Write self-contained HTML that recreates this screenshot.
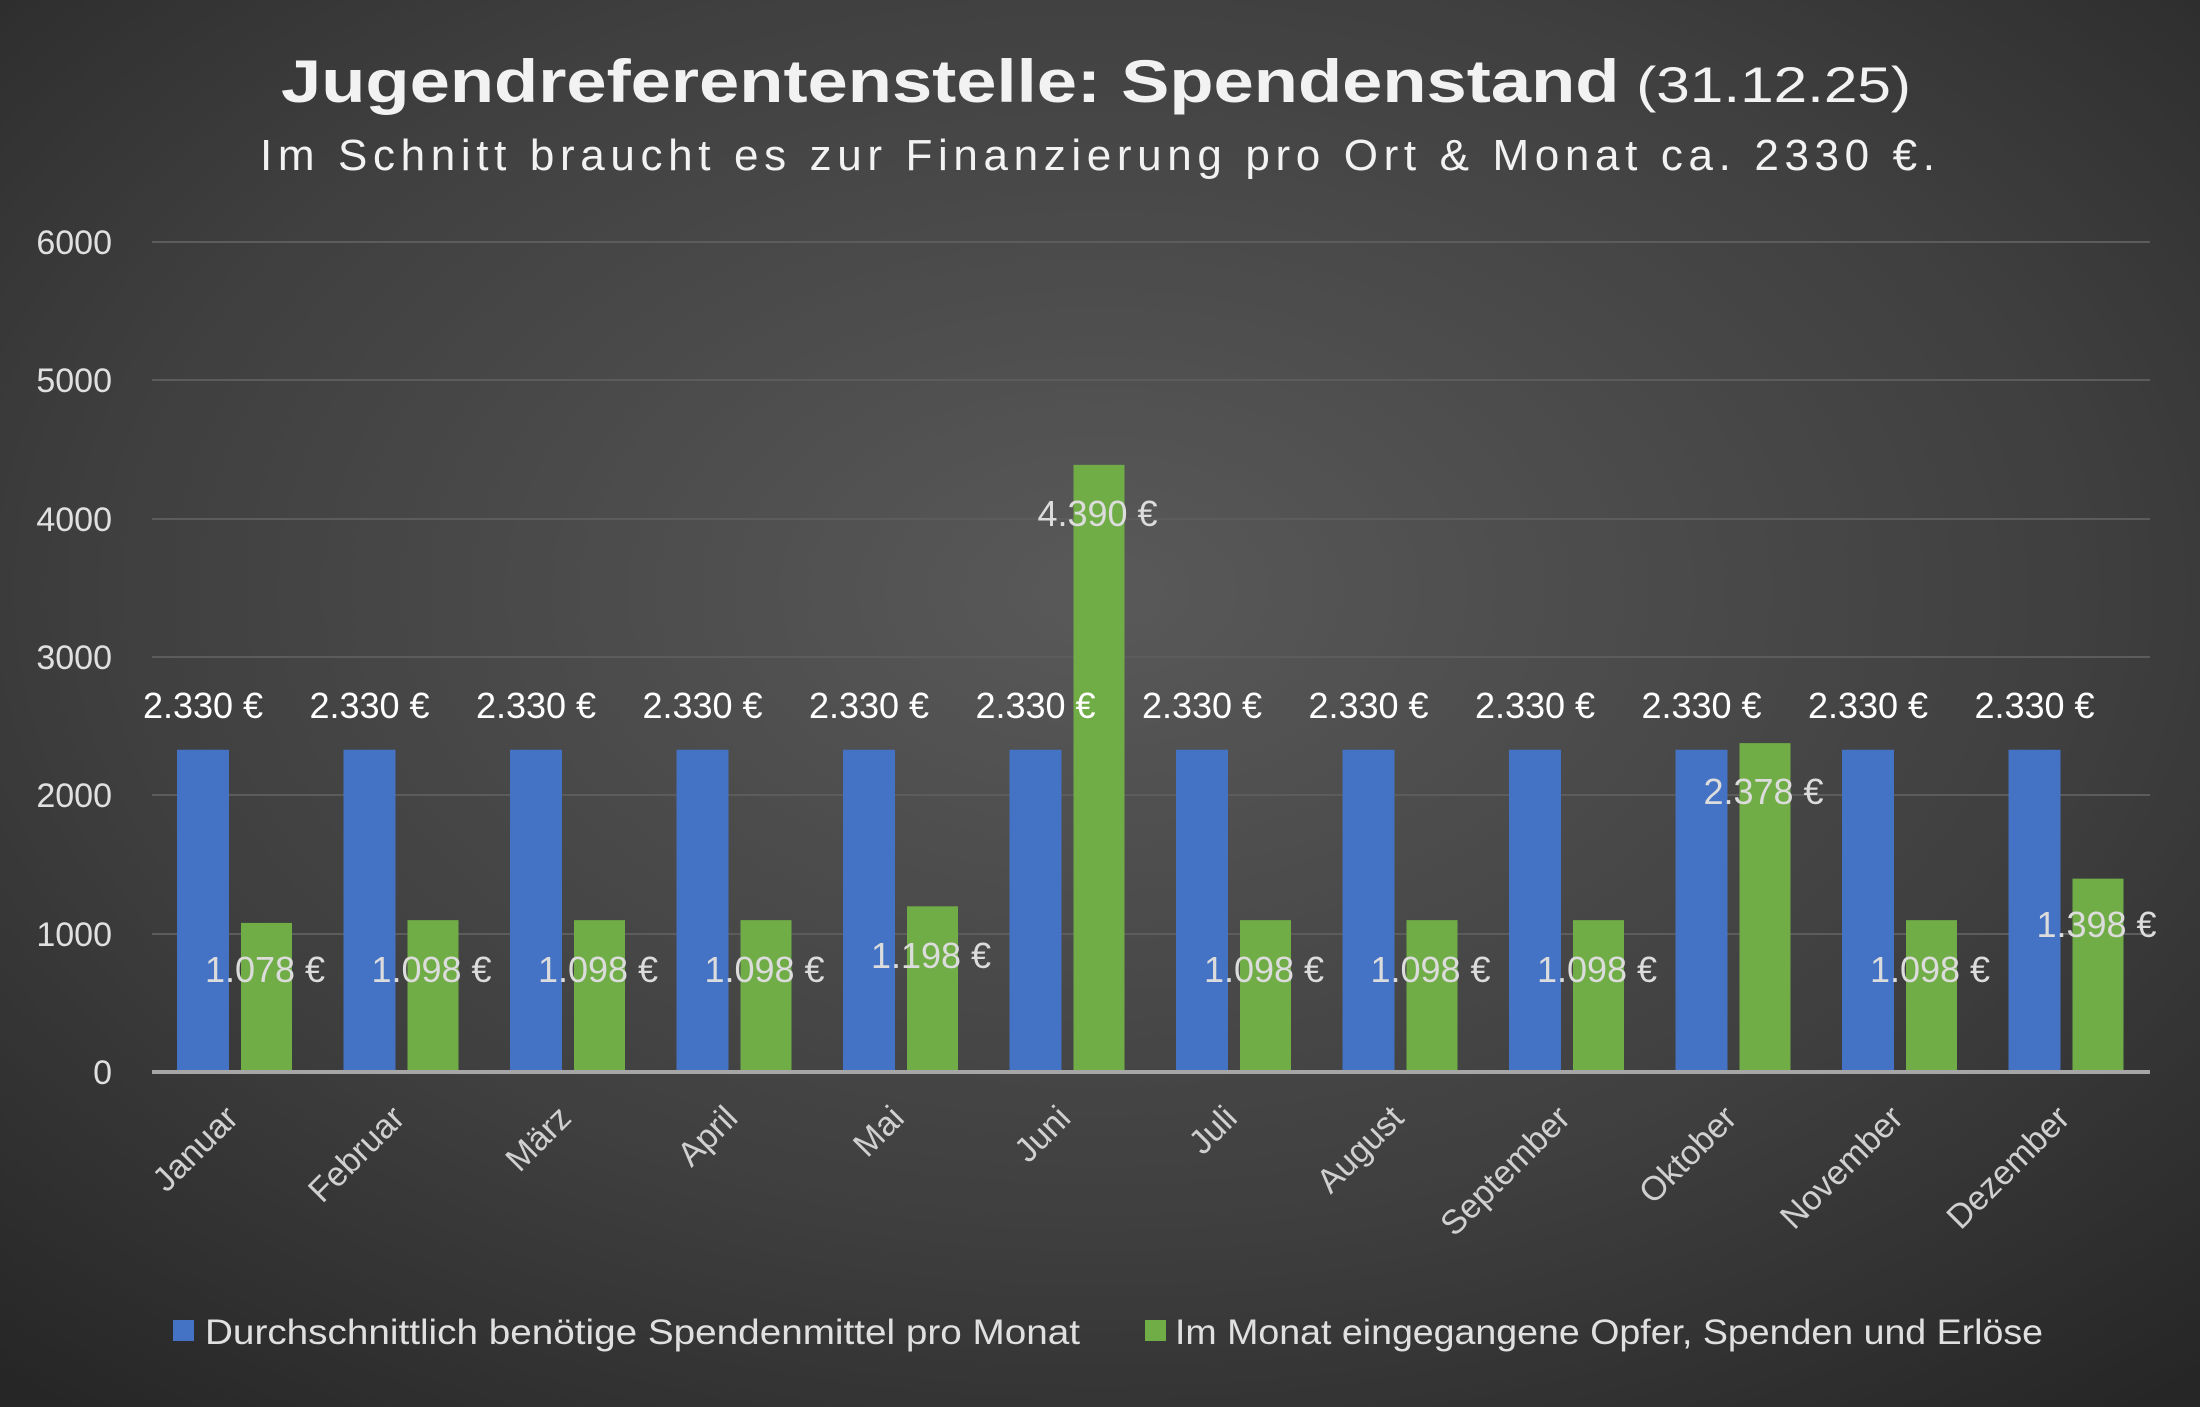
<!DOCTYPE html>
<html><head><meta charset="utf-8"><style>
html,body{margin:0;padding:0;background:#333;}
svg{display:block;font-family:"Liberation Sans",sans-serif;}
</style></head><body>
<svg width="2200" height="1407" viewBox="0 0 2200 1407" xmlns="http://www.w3.org/2000/svg">
<defs>
<radialGradient id="bg" cx="50%" cy="42%" r="75%">
<stop offset="0" stop-color="#595959"/>
<stop offset="0.6" stop-color="#3f3f3f"/>
<stop offset="1" stop-color="#262626"/>
</radialGradient>
</defs>
<rect width="2200" height="1407" fill="url(#bg)"/>
<text x="281" y="102" font-size="60" fill="#f2f2f2" textLength="1630" lengthAdjust="spacingAndGlyphs"><tspan font-weight="bold">Jugendreferentenstelle: Spendenstand</tspan><tspan font-size="50"> (31.12.25)</tspan></text>
<text x="260" y="170" font-size="44" fill="#f2f2f2" textLength="1675" lengthAdjust="spacing">Im Schnitt braucht es zur Finanzierung pro Ort &amp; Monat ca. 2330 €.</text>
<g stroke="#5c5c5c" stroke-width="2">
<line x1="152" x2="2150" y1="934" y2="934"/>
<line x1="152" x2="2150" y1="795" y2="795"/>
<line x1="152" x2="2150" y1="657" y2="657"/>
<line x1="152" x2="2150" y1="519" y2="519"/>
<line x1="152" x2="2150" y1="380" y2="380"/>
<line x1="152" x2="2150" y1="242" y2="242"/>
</g>
<g font-size="34" fill="#e0e0e0" text-anchor="end">
<text x="112" y="1084">0</text>
<text x="112" y="946">1000</text>
<text x="112" y="807">2000</text>
<text x="112" y="669">3000</text>
<text x="112" y="531">4000</text>
<text x="112" y="392">5000</text>
<text x="112" y="254">6000</text>
</g>
<g id="bars"></g>
<line x1="152" x2="2150" y1="1072" y2="1072" stroke="#a6a6a6" stroke-width="4"/>
<g id="labels"></g>
<rect x="173" y="1320" width="21" height="21" fill="#4472c4"/>
<text x="205" y="1344" font-size="35" fill="#e0e0e0" textLength="875" lengthAdjust="spacingAndGlyphs">Durchschnittlich benötige Spendenmittel pro Monat</text>
<rect x="1145" y="1320" width="21" height="21" fill="#70ad47"/>
<text x="1175" y="1344" font-size="35" fill="#e0e0e0" textLength="868" lengthAdjust="spacingAndGlyphs">Im Monat eingegangene Opfer, Spenden und Erlöse</text>
</svg>
<script>
var months=["Januar","Februar","März","April","Mai","Juni","Juli","August","September","Oktober","November","Dezember"];
var g=[1078,1098,1098,1098,1198,4390,1098,1098,1098,2378,1098,1398];
var gy=[969,969,969,969,955,513,969,969,969,791,969,924];
var ns="http://www.w3.org/2000/svg";
var bars=document.getElementById("bars"),labs=document.getElementById("labels");
function el(p,t,a,txt){var e=document.createElementNS(ns,t);for(var k in a)e.setAttribute(k,a[k]);if(txt)e.textContent=txt;p.appendChild(e);return e;}
for(var i=0;i<12;i++){
 var x0=152+i*166.5;
 var bh=2330*0.1383, gh=g[i]*0.1383;
 el(bars,"rect",{x:x0+25,y:1072-bh,width:52,height:bh,fill:"#4472c4"});
 el(bars,"rect",{x:x0+89,y:1072-gh,width:51,height:gh,fill:"#70ad47"});
 el(labs,"text",{x:x0+51,y:718,"font-size":36,fill:"#ffffff","text-anchor":"middle"},"2.330 €");
 el(labs,"text",{x:x0+113,y:gy[i]+13,"font-size":36,fill:"#dcdcdc","text-anchor":"middle"},g[i].toString().replace(/(\d)(\d{3})$/,"$1.$2")+" €");
 var cx=x0+88,cy=1120;
 el(labs,"text",{x:cx,y:cy,"font-size":34,fill:"#d0d0d0","text-anchor":"end",transform:"rotate(-45 "+cx+" "+cy+")"},months[i]);
}
</script>
</body></html>
